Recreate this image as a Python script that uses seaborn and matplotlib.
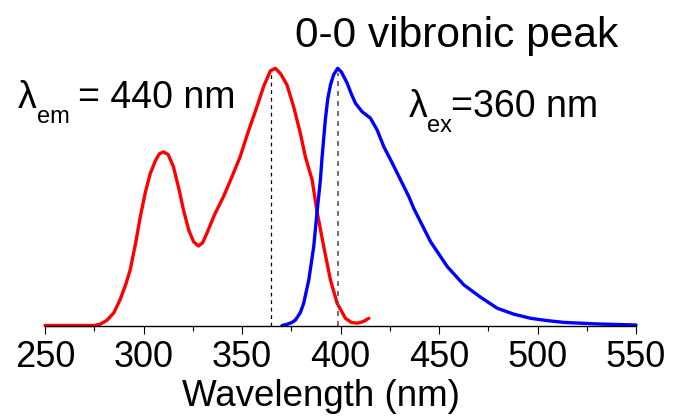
import numpy as np
import pandas as pd
import matplotlib
matplotlib.use("Agg")
import matplotlib.pyplot as plt
import seaborn as sns

# Excitation spectrum (red), monitored at 440 nm
exc_wl = [250, 260, 270, 275, 278, 281.4, 285, 288.1, 291, 293.2, 296, 298.3, 301, 303.4,
          306, 308, 310.1, 312.5, 315.2, 318, 320.3, 323, 325.4, 327.9, 330, 332.2, 336,
          340.6, 345, 349.1, 353, 357.6, 361, 364.4, 366.9, 369.5, 372.8, 376.2, 379.6,
          382.2, 385.6, 388.1, 391.5, 394.9, 398.3, 402.5, 405.5, 408.5, 411.5, 414.4]
exc_int = [0, 0, 0, 0, 0.005, 0.02, 0.05, 0.10, 0.16, 0.215, 0.32, 0.42, 0.52, 0.59,
           0.64, 0.667, 0.675, 0.665, 0.617, 0.53, 0.449, 0.37, 0.326, 0.309, 0.322, 0.359, 0.43,
           0.501, 0.58, 0.657, 0.75, 0.851, 0.93, 0.99, 1.0, 0.98, 0.936, 0.851, 0.748,
           0.655, 0.566, 0.442, 0.306, 0.177, 0.086, 0.028, 0.012, 0.009, 0.015, 0.028]

# Emission spectrum (blue), excited at 360 nm
emi_wl = [370.3, 373, 375.4, 377.1, 379.6, 381.3, 383.9, 386.4, 388.1, 389.8, 390.6, 392.3,
          393.5, 394.9, 396.5, 398.6, 400.5, 403.4, 405.5, 407.6, 411.0, 415.2, 418.6,
          422.0, 426.3, 430.5, 434.7, 437.2, 445.7, 454.2, 462.6, 471.1, 479.6, 488.0,
          496.5, 505.0, 513.5, 530.4, 550]
emi_int = [0.0, 0.005, 0.012, 0.021, 0.05, 0.086, 0.177, 0.306, 0.442, 0.566, 0.65, 0.80,
           0.88, 0.935, 0.975, 1.0, 0.985, 0.942, 0.90, 0.864, 0.831, 0.806, 0.760,
           0.695, 0.631, 0.566, 0.501, 0.455, 0.326, 0.229, 0.158, 0.11, 0.067, 0.044,
           0.028, 0.019, 0.012, 0.006, 0.002]

peak_lines = [364.7, 398.6]
xticks = [250, 300, 350, 400, 450, 500, 550]

sns.set_style("white")
plt.rcParams['font.family'] = ['Liberation Sans', 'DejaVu Sans']
plt.rcParams['text.color'] = 'black'
plt.rcParams['axes.labelcolor'] = 'black'
plt.rcParams['xtick.color'] = 'black'

W, H = 673, 416
fig = plt.figure(figsize=(W / 100, H / 100), dpi=100)
left, right = 45 / W, 636 / W
bottom = (H - 325.5) / H
top = (H - 10) / H
ax = fig.add_axes([left, bottom, right - left, top - bottom])

exc = pd.DataFrame({"wl": exc_wl, "I": exc_int})
emi = pd.DataFrame({"wl": emi_wl, "I": emi_int})
sns.lineplot(data=exc, x="wl", y="I", color="#ff0000", lw=2.4, ax=ax, sort=True,
             estimator=None, clip_on=False)
sns.lineplot(data=emi, x="wl", y="I", color="#0000ff", lw=2.4, ax=ax, sort=True,
             estimator=None, clip_on=False)

ax.vlines(peak_lines[0], 0, 0.98, colors="black", linestyles=(0, (3, 3)), lw=0.9)
ax.vlines(peak_lines[1], 0, 0.98, colors="#555555", linestyles=(0, (3, 3)), lw=1.2)

ax.set_xlim(250, 550)
ax.set_ylim(0, (325.5 - 10) / 257.2)
for s in ["left", "top", "right"]:
    ax.spines[s].set_visible(False)
ax.spines["bottom"].set_linewidth(1.0)
ax.spines["bottom"].set_color("black")
ax.set_yticks([])
ax.set_xticks(xticks)
ax.set_xticks(np.arange(275, 550, 50), minor=True)
ax.tick_params(axis="x", which="major", direction="out", length=5.5, width=0.8,
               colors="black", labelsize=26, pad=5, bottom=True)
ax.tick_params(axis="x", which="minor", direction="out", length=3.5, width=0.8,
               colors="black", bottom=True)
ax.set_xlabel("Wavelength (nm)", fontsize=26.5)
ax.xaxis.set_label_coords((320.5 - 45) / 591, -(378.5 - 325.5) / 315.5)
ax.set_ylabel("")

def ftext(x, y, s, size, **kw):
    fig.text(x / W, 1 - y / H, s, fontsize=size, ha=kw.pop("ha", "left"),
             va="baseline", **kw)

ftext(456.5, 46.7, "0-0 vibronic peak", 30.6, ha="center")
# lambda_em label
ftext(18, 108.3, "λ", 27)
ftext(37, 123, "em", 17)
ftext(78, 108.3, "= 440 nm", 27)
# lambda_ex label
ftext(409, 116.7, "λ", 27)
ftext(427.5, 131.5, "ex", 17)
ftext(451, 116.7, "=360 nm", 27)

fig.savefig("out.png", dpi=100)
